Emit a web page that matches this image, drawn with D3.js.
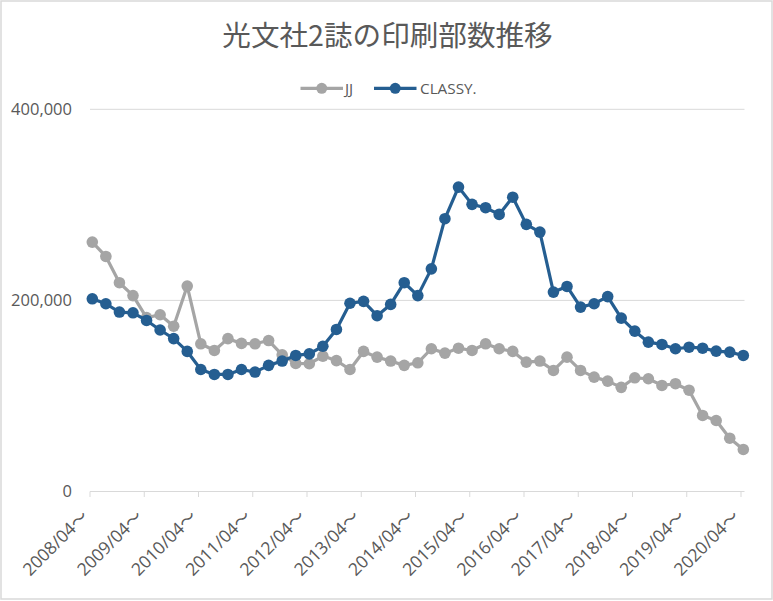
<!DOCTYPE html>
<html><head><meta charset="utf-8">
<script src="https://cdn.jsdelivr.net/npm/d3@7"></script>
<style>
html,body{margin:0;padding:0;background:#fff;}
svg{display:block;}
text{font-family:"Open Sans","Noto Sans CJK JP",sans-serif;fill:#595959;}
</style></head><body>
<svg id="c" width="773" height="601"></svg>
<script>
const title = "光文社2誌の印刷部数推移";
const yearLabels = ["2008/04〜","2009/04〜","2010/04〜","2011/04〜","2012/04〜","2013/04〜","2014/04〜","2015/04〜","2016/04〜","2017/04〜","2018/04〜","2019/04〜","2020/04〜"];
const seriesNames = ["JJ","CLASSY."];
const jj = [261000,246000,218500,205000,182000,185000,173000,215000,154600,147600,160000,155000,154600,158000,143000,134000,
  133700,141700,137000,127700,146600,140600,136500,132000,134700,149400,144800,150000,147600,154600,149400,146600,
  135400,136500,126700,140600,126700,119700,115500,109000,119000,118000,111000,112800,106000,79600,74300,55800,44000];
const classy = [201700,196500,187800,187000,179000,169000,160000,146600,127700,122500,122500,127700,125000,132000,136500,142400,
  144000,152000,169600,197000,199000,184000,195800,218500,205000,233000,285500,318600,300500,297000,290000,308000,
  279600,271500,208700,214600,193000,196500,204000,181500,167800,156300,153900,149400,151000,150000,146900,145900,142400];
const yTicks = [0,200000,400000];
const colors = ["#A5A5A5","#255E91"];

const svg = d3.select("#c");
svg.append("rect").attr("x",1).attr("y",1).attr("width",771).attr("height",598)
  .attr("fill","#fff").attr("stroke","#d9d9d9").attr("stroke-width",1.5);

const x = d3.scaleLinear().domain([0, jj.length-1]).range([92.3, 743.3]);
const y = d3.scaleLinear().domain([0, 400000]).range([491.5, 109.3]);

// gridlines
svg.append("g").selectAll("line").data(yTicks).join("line")
  .attr("x1",90).attr("x2",744.5).attr("y1",d=>y(d)).attr("y2",d=>y(d))
  .attr("stroke","#d9d9d9").attr("stroke-width",1);

// y labels
svg.append("g").selectAll("text").data(yTicks).join("text")
  .attr("x",72).attr("y",d=>y(d)).attr("dy","0.35em").attr("text-anchor","end")
  .attr("font-size",16.5).text(d=>d3.format(",")(d));

// x axis ticks & labels
const tickIdx = yearLabels.map((d,i)=>i*4);
const xa = svg.append("g").attr("transform","translate(-2.3,0)");
xa.selectAll("line").data(tickIdx).join("line")
  .attr("x1",d=>x(d)).attr("x2",d=>x(d)).attr("y1",491.5).attr("y2",497)
  .attr("stroke","#d9d9d9");
xa.selectAll("text").data(yearLabels).join("text")
  .attr("transform",(d,i)=>`translate(${x(tickIdx[i])-0.5},${517.5}) rotate(-45)`)
  .attr("text-anchor","end").attr("font-size",17.5).text(d=>d);

// lines
const line = d3.line().x((d,i)=>x(i)).y(d=>y(d));
[jj, classy].forEach((s,k)=>{
  const g = svg.append("g");
  g.append("path").datum(s).attr("d",line).attr("fill","none")
    .attr("stroke",colors[k]).attr("stroke-width",3.2).attr("stroke-linejoin","round");
  g.selectAll("circle").data(s).join("circle")
    .attr("cx",(d,i)=>x(i)).attr("cy",d=>y(d)).attr("r",5.8).attr("fill",colors[k]);
});

// title
svg.append("text").attr("x",387.5).attr("y",46).attr("text-anchor","middle")
  .attr("font-size",28.6).style("font-family","'Noto Sans CJK JP',sans-serif").text(title);

// legend
const leg = [{x1:300.5,x2:343,t:345},{x1:374,x2:416.5,t:420}];
leg.forEach((l,k)=>{
  const g = svg.append("g");
  g.append("line").attr("x1",l.x1).attr("x2",l.x2).attr("y1",88.3).attr("y2",88.3)
    .attr("stroke",colors[k]).attr("stroke-width",3.2);
  g.append("circle").attr("cx",(l.x1+l.x2)/2).attr("cy",88.3).attr("r",5.5).attr("fill",colors[k]);
  g.append("text").attr("x",l.t).attr("y",88.3).attr("dy","0.35em").attr("font-size",15.3).text(seriesNames[k]);
});
</script>
</body></html>
